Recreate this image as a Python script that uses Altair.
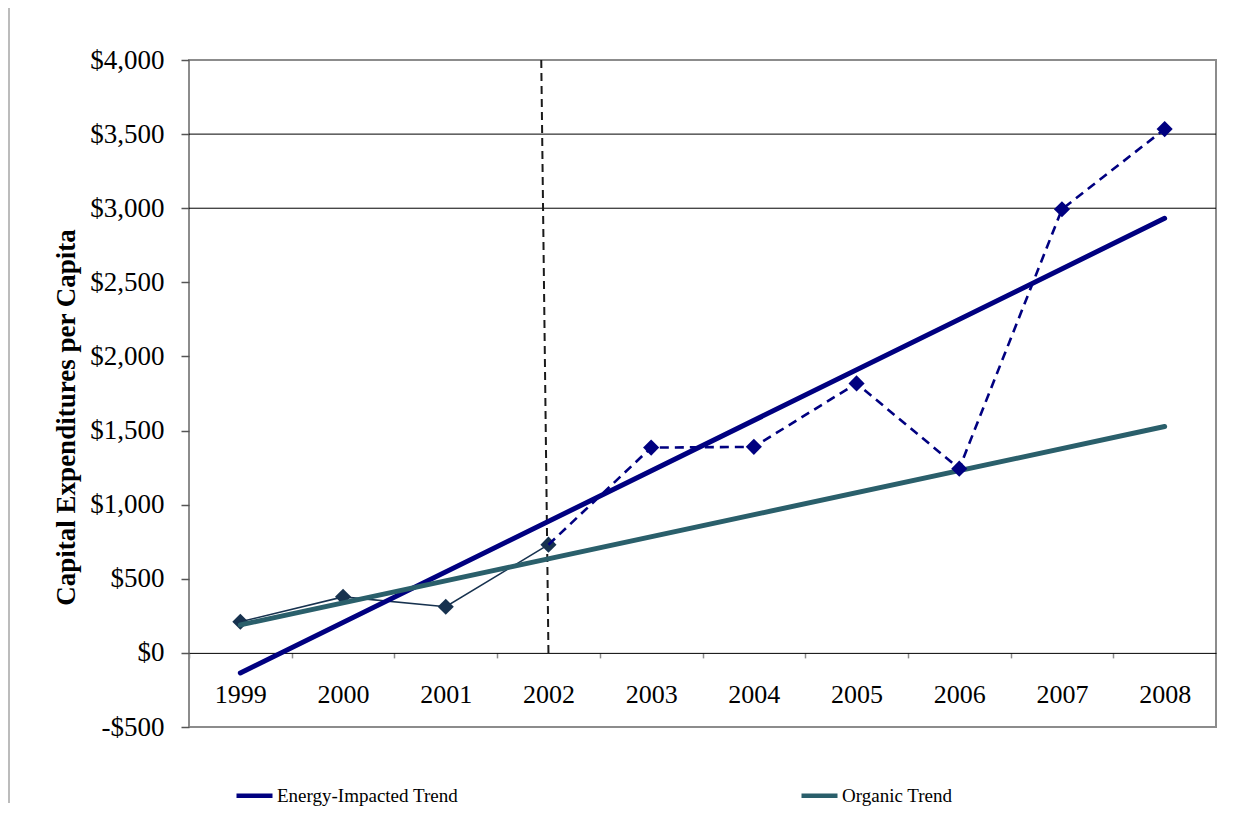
import altair as alt
import pandas as pd

# ---- data ----
years = [1999, 2000, 2001, 2002, 2003, 2004, 2005, 2006, 2007, 2008]
capex = [210, 378, 311, 730, 1385, 1390, 1818, 1243, 2993, 3534]
split_year = 2002

trend_years = [1999, 2008]
energy_trend = [-135, 2932]
organic_trend = [189, 1527]
trend_names = ["Energy-Impacted Trend", "Organic Trend"]

divider_x = [2001.93, 2002.0]
divider_y = [4000, 0]

grid_values = [3000, 3500]
y_ticks = [-500, 0, 500, 1000, 1500, 2000, 2500, 3000, 3500, 4000]
x_tick_positions = [1998.5, 1999.5, 2000.5, 2001.5, 2002.5, 2003.5,
                    2004.5, 2005.5, 2006.5, 2007.5]

FONT = "Liberation Serif"
NAVY = "#000080"
SLATE = "#17324F"
TEAL = "#2A5F6B"

W, H = 1027, 667

# ---- tables ----
actual = pd.DataFrame({"year": years, "value": capex})
early = actual[actual["year"] <= split_year]
late = actual[actual["year"] >= split_year]
trends = pd.DataFrame({
    "year": trend_years * 2,
    "value": energy_trend + organic_trend,
    "series": [trend_names[0]] * 2 + [trend_names[1]] * 2,
})
divider = pd.DataFrame({"year": divider_x, "value": divider_y})
grid = pd.DataFrame({"value": grid_values})

x_axis = alt.Axis(
    values=x_tick_positions,
    labelExpr="format(datum.value + 0.5, 'd')",
    labelOffset=W / 10 / 2,
    labelFont=FONT, labelFontSize=26, labelColor="black",
    labelPadding=24, labelOverlap=False, labelFlush=False, labelBound=False,
    tickSize=5, tickColor="#8c8c8c", tickWidth=1.5,
    domain=True, domainColor="black", domainWidth=1,
    grid=False, title=None, offset=-H * 500 / 4500,
)
y_axis = alt.Axis(
    values=y_ticks,
    labelExpr="datum.value < 0 ? '-$' + format(-datum.value, ',') : '$' + format(datum.value, ',')",
    labelFont=FONT, labelFontSize=27, labelColor="black", labelPadding=17,
    tickSize=8, tickColor="#555555", tickWidth=1.5,
    domain=False, grid=False,
    title="Capital Expenditures per Capita",
    titleFont=FONT, titleFontSize=27, titleFontWeight="bold", titleColor="black",
    titleAngle=270, titleAlign="center", titleBaseline="alphabetic",
    titleX=-115, titleY=357,
)

X = alt.X("year:Q", scale=alt.Scale(domain=[1998.5, 2008.5], nice=False, zero=False), axis=x_axis)
Y = alt.Y("value:Q", scale=alt.Scale(domain=[-500, 4000], nice=False, zero=False), axis=y_axis)

grid_layer = alt.Chart(grid).mark_rule(color="black", strokeWidth=1).encode(y=Y)

divider_layer = alt.Chart(divider).mark_line(
    color="#1a1a1a", strokeWidth=2, strokeDash=[8, 5]
).encode(x=X, y=Y, order="value:Q")

early_line = alt.Chart(early).mark_line(color=SLATE, strokeWidth=1.6).encode(x=X, y=Y)
early_pts = alt.Chart(early).mark_point(
    shape="diamond", filled=True, size=260, color=SLATE, opacity=1
).encode(x=X, y=Y)

trend_layer = alt.Chart(trends).mark_line(strokeWidth=5, strokeCap="round").encode(
    x=X, y=Y,
    color=alt.Color(
        "series:N",
        scale=alt.Scale(domain=trend_names, range=[NAVY, TEAL]),
        legend=alt.Legend(
            title=None, orient="none", direction="horizontal",
            legendX=45, legendY=715,
            symbolType="stroke", symbolSize=1296, symbolStrokeWidth=4.5,
            labelFont=FONT, labelFontSize=19, labelColor="black",
            labelLimit=0, labelOffset=2, columnPadding=334,
        ),
    ),
)

late_line = alt.Chart(late).mark_line(
    color=NAVY, strokeWidth=2.6, strokeDash=[9, 6]
).encode(x=X, y=Y)
late_pts = alt.Chart(late[late["year"] > split_year]).mark_point(
    shape="diamond", filled=True, size=260, color=NAVY, opacity=1
).encode(x=X, y=Y)

frame = alt.Chart(pd.DataFrame({"a": [0]})).mark_rule(
    color="#a6a6a6", strokeWidth=1.5
).encode(x=alt.value(-180), y=alt.value(-60), y2=alt.value(743))

chart = alt.layer(
    frame, grid_layer, divider_layer, early_line, early_pts,
    trend_layer, late_line, late_pts,
).properties(
    width=W, height=H,
    autosize=alt.AutoSizeParams(type="none"),
    padding={"left": 181, "top": 52, "right": 19, "bottom": 80},
    background="white",
).configure_view(
    stroke="#8c8c8c", strokeWidth=2,
)

chart.save("out.html", embed_options={"renderer": "svg", "actions": False})
